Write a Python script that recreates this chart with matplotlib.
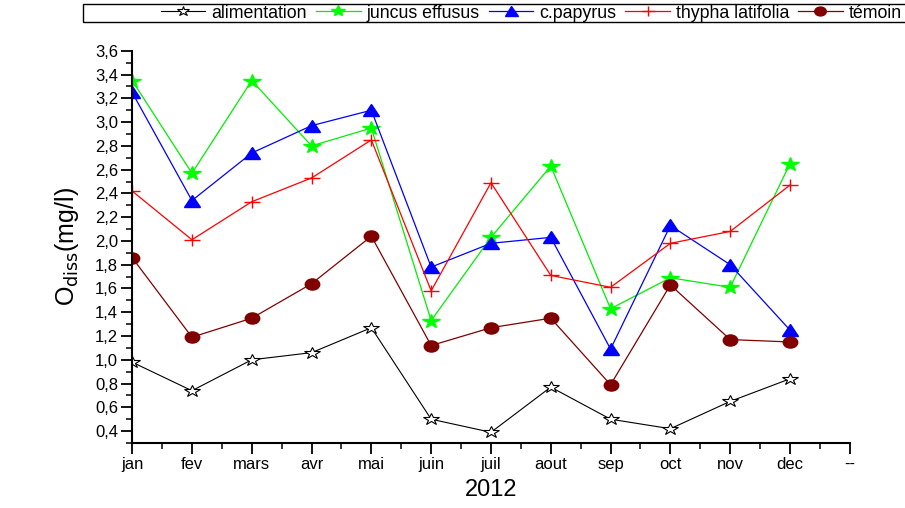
import matplotlib
matplotlib.use("Agg")
import matplotlib.pyplot as plt
from matplotlib.patches import Rectangle
from matplotlib.markers import MarkerStyle
from matplotlib.transforms import Affine2D
from matplotlib.ticker import MultipleLocator, FuncFormatter

plt.rcParams['font.family'] = ['Liberation Sans', 'DejaVu Sans']

mois = ["jan", "fev", "mars", "avr", "mai", "juin", "juil", "aout", "sep", "oct", "nov", "dec", "--"]

alimentation = [0.98, 0.74, 1.00, 1.06, 1.27, 0.50, 0.39, 0.77, 0.50, 0.42, 0.65, 0.84]
juncus = [3.35, 2.57, 3.35, 2.80, 2.95, 1.33, 2.03, 2.63, 1.43, 1.69, 1.61, 2.65]
papyrus = [3.25, 2.34, 2.74, 2.97, 3.10, 1.78, 1.98, 2.03, 1.09, 2.13, 1.80, 1.25]
thypha = [2.42, 2.01, 2.33, 2.53, 2.85, 1.58, 2.49, 1.71, 1.61, 1.98, 2.08, 2.47]
temoin = [1.86, 1.19, 1.35, 1.64, 2.04, 1.12, 1.27, 1.35, 0.79, 1.63, 1.17, 1.15]

x = list(range(len(alimentation)))


# the original picture is a bit stretched sideways, markers too
def wide(m):
    return MarkerStyle(m, transform=Affine2D().scale(1.3, 1.0))


fig = plt.figure(figsize=(9.05, 5.08), dpi=100)
ax = fig.add_axes([0.146, 0.128, 0.793, 0.772])

ax.plot(x, alimentation, color='black', lw=0.8, marker=wide('*'), ms=9,
        mfc='white', mec='black', mew=0.8, label='alimentation')
ax.plot(x, juncus, color='#00ee00', lw=0.9, marker=wide('*'), ms=10,
        mfc='#00ff00', mec='#00ff00', label='juncus effusus')
ax.plot(x, papyrus, color='blue', lw=0.9, marker=wide('^'), ms=9,
        mfc='blue', mec='blue', label='c.papyrus')
ax.plot(x, thypha, color='red', lw=0.9, marker=wide('+'), ms=9,
        mew=1.0, label='thypha latifolia')
ax.plot(x, temoin, color='#800000', lw=0.9, marker=wide('o'), ms=8,
        mfc='#800000', mec='#800000', label='témoin')

ax.set_xlim(0, 12)
ax.set_ylim(0.3, 3.6)
ax.set_xticks(range(len(mois)))
ax.set_xticklabels(mois, fontsize=12)
ax.xaxis.set_minor_locator(MultipleLocator(0.5))
ax.yaxis.set_major_locator(MultipleLocator(0.2))
ax.yaxis.set_minor_locator(MultipleLocator(0.1))
ax.yaxis.set_major_formatter(FuncFormatter(lambda v, p: ("%.1f" % v).replace('.', ',')))
ax.tick_params(axis='y', labelsize=12)
ax.tick_params(which='major', direction='out', length=8, width=1.3, pad=2)
ax.tick_params(which='minor', direction='out', length=4, width=1.1)

ax.spines['top'].set_visible(False)
ax.spines['right'].set_visible(False)
ax.spines['left'].set_linewidth(1.5)
ax.spines['bottom'].set_linewidth(1.5)

ax.set_xlabel("2012", fontsize=17, labelpad=5)
ax.set_ylabel("O$_{\\mathrm{diss}}$(mg/l)", fontsize=18, labelpad=10)

# legend box runs past the right edge, as in the reference
fig.patches.append(Rectangle((83 / 905, 1 - 22 / 508), 0.95, 18 / 508,
                             transform=fig.transFigure, fill=False,
                             edgecolor='black', lw=1.0))
fig.legend(loc='center left', bbox_to_anchor=(161 / 905, 1 - 13 / 508), ncol=5,
           fontsize=12.8, frameon=False, handlelength=2.5, handletextpad=0.35,
           columnspacing=0.5, borderpad=0, borderaxespad=0, markerscale=0.8)

fig.savefig("out.png", dpi=100)
